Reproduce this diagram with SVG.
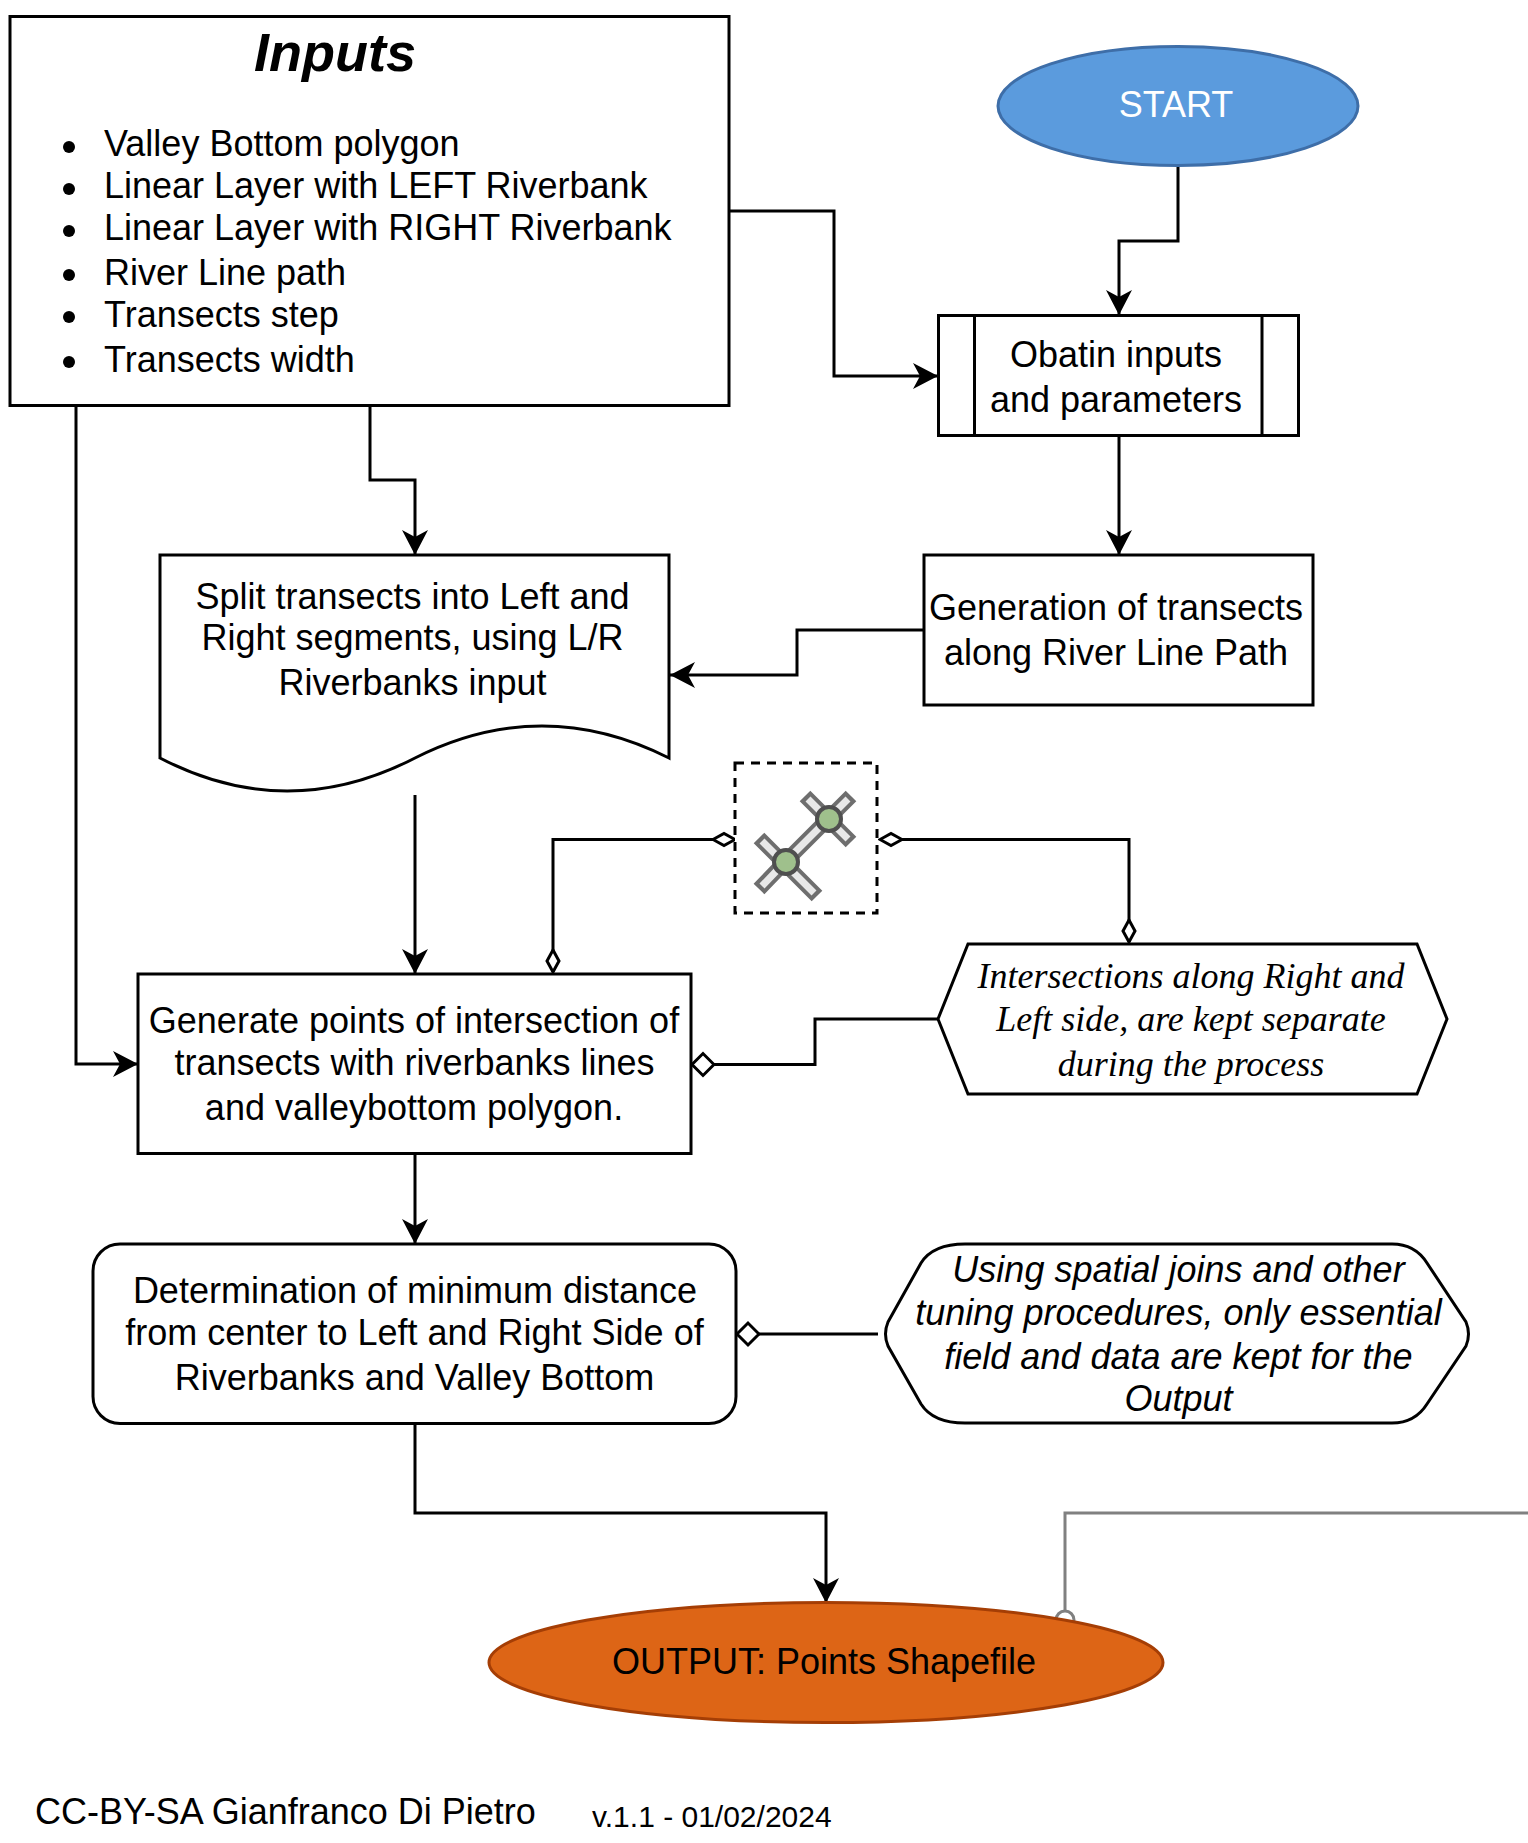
<svg xmlns="http://www.w3.org/2000/svg" width="1528" height="1843" viewBox="0 0 1528 1843">
<style>
text{font-family:"Liberation Sans",Arial,sans-serif;font-size:36px;fill:#000;text-anchor:middle}
.s{fill:#fff;stroke:#000;stroke-width:3}
.c{fill:none;stroke:#000;stroke-width:3}
.l{text-anchor:start}
.it{font-style:italic}
.se{font-family:"Liberation Serif","Times New Roman",serif;font-style:italic}
.bo{fill:none;stroke:#6e6e6e;stroke-width:15}
.bi{fill:none;stroke:#e8e8e8;stroke-width:7}
.p{fill:#9fc08c;stroke:#4f4f4f;stroke-width:4}
</style>
<defs>
<marker id="a" markerUnits="userSpaceOnUse" markerWidth="28" markerHeight="28" refX="26" refY="14" orient="auto"><path d="M1,1 L26,14 L1,27 L8,14 Z" fill="#000"/></marker>
<marker id="d" markerUnits="userSpaceOnUse" markerWidth="26" markerHeight="18" refX="24" refY="9" orient="auto-start-reverse"><path d="M2,9 L13,3 L24,9 L13,15 Z" fill="#fff" stroke="#000" stroke-width="3"/></marker>
<marker id="D" markerUnits="userSpaceOnUse" markerWidth="28" markerHeight="28" refX="24" refY="14" orient="auto"><path d="M2,14 L13,3 L24,14 L13,25 Z" fill="#fff" stroke="#000" stroke-width="3"/></marker>
</defs>
<g id="connectors">
<path class="c" d="M729,211H834V376H938" marker-end="url(#a)"/>
<path class="c" d="M1178,166V241H1119V315" marker-end="url(#a)"/>
<path class="c" d="M1119,435V555" marker-end="url(#a)"/>
<path class="c" d="M924,630H797V675H670" marker-end="url(#a)"/>
<path class="c" d="M370,405V480H415V555" marker-end="url(#a)"/>
<path class="c" d="M415,795V974" marker-end="url(#a)"/>
<path class="c" d="M76,405V1064H138" marker-end="url(#a)"/>
<path class="c" d="M415,1153V1244" marker-end="url(#a)"/>
<path class="c" d="M415,1423V1513H826V1603" marker-end="url(#a)"/>
<path class="c" d="M735,839.500H553V972" marker-start="url(#d)" marker-end="url(#d)"/>
<path class="c" d="M880,839.500H1129V942" marker-start="url(#d)" marker-end="url(#d)"/>
<path class="c" d="M938,1019H815V1064.500H692" marker-end="url(#D)"/>
<path class="c" d="M878,1334H737" marker-end="url(#D)"/>
<path d="M1528,1513H1065V1611" fill="none" stroke="#808080" stroke-width="3"/>
<circle cx="1065" cy="1620" r="9" fill="#fff" stroke="#808080" stroke-width="3"/>
</g>
<g id="inputs"><rect class="s" x="10" y="16.500" width="719" height="389"/>
<text x="335" y="71" style="font-size:54px;font-weight:bold;font-style:italic">Inputs</text>
<g fill="#000"><circle cx="69" cy="147" r="6"/><circle cx="69" cy="189" r="6"/><circle cx="69" cy="231" r="6"/><circle cx="69" cy="275" r="6"/><circle cx="69" cy="317" r="6"/><circle cx="69" cy="362" r="6"/></g>
<text class="l" x="104" y="156">Valley Bottom polygon</text>
<text class="l" x="104" y="198">Linear Layer with LEFT Riverbank</text>
<text class="l" x="104" y="240">Linear Layer with RIGHT Riverbank</text>
<text class="l" x="104" y="285">River Line path</text>
<text class="l" x="104" y="327">Transects step</text>
<text class="l" x="104" y="372">Transects width</text></g>
<g id="start"><ellipse cx="1178" cy="106" rx="180" ry="59.500" fill="#5b9bdd" stroke="#3e6ea8" stroke-width="3"/><text x="1176" y="117" style="fill:#fff">START</text></g>
<g id="obtain"><rect class="s" x="938.500" y="315.500" width="360" height="120"/><path class="c" d="M974.500,315.500V435.500M1262,315.500V435.500"/>
<text x="1116" y="367">Obatin inputs</text><text x="1116" y="412">and parameters</text></g>
<g id="generation"><rect class="s" x="924" y="555" width="389" height="150"/>
<text x="1116" y="620">Generation of transects</text><text x="1116" y="665">along River Line Path</text></g>
<g id="split"><path class="s" d="M160,555H669V758Q542,694 415,758Q287,824 160,758Z"/>
<text x="412.500" y="609">Split transects into Left and</text><text x="412.500" y="650">Right segments, using L/R</text><text x="412.500" y="695">Riverbanks input</text></g>
<g id="icon"><rect x="735" y="763" width="142" height="150" fill="#fff" stroke="#000" stroke-width="3" stroke-dasharray="9 7"/>
<path class="bo" d="M785,862L828,819M759,838L817,896M759,889L785,862M805,796L851,842M851,796L828,819"/>
<path class="bi" d="M785,862L828,819M762,841L814,893M762,886L785,862M808,799L848,839M848,799L828,819"/>
<circle class="p" cx="829" cy="819" r="12"/><circle class="p" cx="786" cy="862" r="12"/></g>
<g id="generate"><rect class="s" x="138" y="974" width="553" height="179.500"/>
<text x="414" y="1033">Generate points of intersection of</text><text x="414.500" y="1075">transects with riverbanks lines</text><text x="414" y="1120">and valleybottom polygon.</text></g>
<g id="note1"><path class="s" d="M968,944H1417L1447,1019L1417,1094H968L938,1019Z"/>
<text class="se" x="1191" y="988">Intersections along Right and</text><text class="se" x="1191" y="1031">Left side, are kept separate</text><text class="se" x="1191" y="1076">during the process</text></g>
<g id="determination"><rect class="s" x="93" y="1244" width="643" height="179.500" rx="27" ry="27"/>
<text x="415" y="1303">Determination of minimum distance</text><text x="414.500" y="1345">from center to Left and Right Side of</text><text x="414.500" y="1390">Riverbanks and Valley Bottom</text></g>
<g id="note2"><path class="s" d="M888,1322L921,1263Q933,1244 965,1244H1392Q1415,1244 1427,1263L1466,1322Q1471,1334 1466,1346L1427,1404Q1415,1423 1392,1423H965Q933,1423 921,1404L888,1346Q883,1334 888,1322Z"/>
<text class="it" x="1178.500" y="1282">Using spatial joins and other</text><text class="it" x="1178.500" y="1325">tuning procedures, only essential</text><text class="it" x="1178.500" y="1369">field and data are kept for the</text><text class="it" x="1178.500" y="1411">Output</text></g>
<g id="output"><ellipse cx="826" cy="1662.500" rx="337" ry="60" fill="#dd6516" stroke="#a53e05" stroke-width="3"/><text x="824" y="1674">OUTPUT: Points Shapefile</text></g>
<g id="footer"><text class="l" x="35" y="1824">CC-BY-SA Gianfranco Di Pietro</text><text class="l" x="592" y="1827" style="font-size:30px">v.1.1 - 01/02/2024</text></g>
</svg>
